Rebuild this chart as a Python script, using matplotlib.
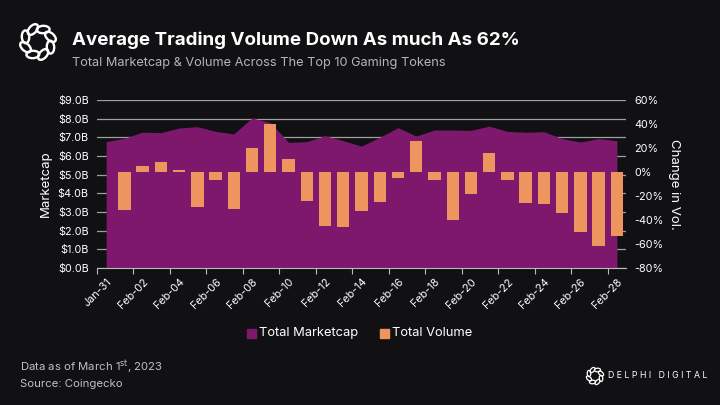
import numpy as np
import matplotlib.pyplot as plt
from matplotlib.patches import Ellipse

plt.rcParams['font.family'] = ['Inter', 'DejaVu Sans']

dates = ["Jan-31"] + [f"Feb-{d:02d}" for d in range(1, 29)]
marketcap = [6.77, 6.95, 7.28, 7.25, 7.50, 7.57, 7.32, 7.18, 8.04, 7.79,
             6.73, 6.77, 7.09, 6.82, 6.53, 7.00, 7.52, 7.07, 7.39, 7.39,
             7.37, 7.60, 7.32, 7.27, 7.30, 6.93, 6.75, 6.93, 6.82]   # $B
vol_change = [None, -31.7, 5.0, 8.6, 2.0, -29.0, -6.7, -31.0, 20.0, 40.0,
              10.5, -24.0, -44.7, -45.8, -32.5, -25.3, -5.0, 25.5, -6.4, -40.3,
              -18.6, 16.0, -6.7, -25.8, -26.7, -34.5, -50.0, -61.8, -53.0]  # %

bg = "#111114"
purple = "#7e186c"
orange = "#ee955f"

fig = plt.figure(figsize=(7.2, 4.05), dpi=100, facecolor=bg)
ax = fig.add_axes([97/720, 1-268/405, (626-97)/720, 168/405])
ax.set_facecolor(bg)

x = np.arange(len(dates))
ax.set_ylim(0, 9)
ax.set_xlim(-0.5, len(dates) - 0.5)
ax.set_yticks(np.arange(0, 10, 1))
ax.set_yticklabels([f"${v:.1f}B" for v in range(10)])
ax.grid(axis="y", color="#a0a0a0", linewidth=0.9, zorder=0)
ax.set_axisbelow(True)
ax.fill_between(x, marketcap, color=purple, linewidth=0, zorder=2)

ax2 = ax.twinx()
ax2.set_ylim(-80, 60)
ax2.set_yticks(np.arange(-80, 61, 20))
ax2.set_yticklabels([f"{v}%" for v in range(-80, 61, 20)])
bx = [i for i, v in enumerate(vol_change) if v is not None]
bv = [v for v in vol_change if v is not None]
ax2.bar(bx, bv, width=0.68, color=orange, zorder=3)

for a in (ax, ax2):
    for s in a.spines.values():
        s.set_visible(False)
    a.tick_params(axis="y", length=0, colors="white", labelsize=7.8, pad=6)

ax.spines["bottom"].set_visible(True)
ax.spines["bottom"].set_color("#bbbbbb")
ax.set_xticks(np.arange(-0.5, len(dates), 2))
ax.set_xticklabels([])
ax.tick_params(axis="x", which="major", length=4, color="#bbbbbb")
ax.set_xticks(x[::2], minor=True)
ax.set_xticklabels(dates[::2], minor=True, rotation=45, ha="right",
                   rotation_mode="anchor", color="white", fontsize=7.8)
ax.tick_params(axis="x", which="minor", length=0, pad=6)

ax.set_ylabel("Marketcap", color="white", fontsize=9.5, labelpad=4)
ax2.set_ylabel("Change in Vol.", color="white", fontsize=9.5, rotation=-90, labelpad=12)

# legend
fig.patches.append(plt.Rectangle((247/720, 1-338/405), 9/720, 9/405,
                                 color=purple, transform=fig.transFigure))
fig.text(259/720, 1-333/405, "Total Marketcap", color="white", fontsize=9.3, va="center")
fig.patches.append(plt.Rectangle((380/720, 1-338/405), 9/720, 9/405,
                                 color=orange, transform=fig.transFigure))
fig.text(392/720, 1-333/405, "Total Volume", color="white", fontsize=9.3, va="center")

# header
fig.text(72/720, 1-40/405, "Average Trading Volume Down As much As 62%",
         color="white", fontsize=13.5, fontweight="bold", va="center")
fig.text(72/720, 1-63/405, "Total Marketcap & Volume Across The Top 10 Gaming Tokens",
         color="#b5b5b5", fontsize=9.2, va="center")

# footer
fig.text(20/720, 1-367/405, "Data as of March 1$^{\\mathrm{st}}$, 2023",
         color="#c0c0c0", fontsize=8.2, va="center")
fig.text(20/720, 1-384/405, "Source: Coingecko", color="#c0c0c0", fontsize=8.2, va="center")


def logo(cx, cy, r, lw):
    # braided ring: loops set along a circle, drawn in pixel units
    for k in range(8):
        ang = k * np.pi / 4 + np.pi / 8
        ex = cx + r * np.cos(ang)
        ey = cy - r * np.sin(ang)
        e = Ellipse((ex, 405 - ey), 0.95 * r, 0.55 * r,
                    angle=np.degrees(ang) + 90 + 25, fill=False, edgecolor="white",
                    linewidth=lw, transform=None)
        fig.patches.append(e)


logo(38, 42, 13.5, 1.7)
logo(595, 376, 6.5, 0.9)
fig.text(608/720, 1-376/405, "D E L P H I   D I G I T A L", color="white",
         fontsize=6.3, va="center")

fig.savefig("out.png", dpi=100, facecolor=bg)
